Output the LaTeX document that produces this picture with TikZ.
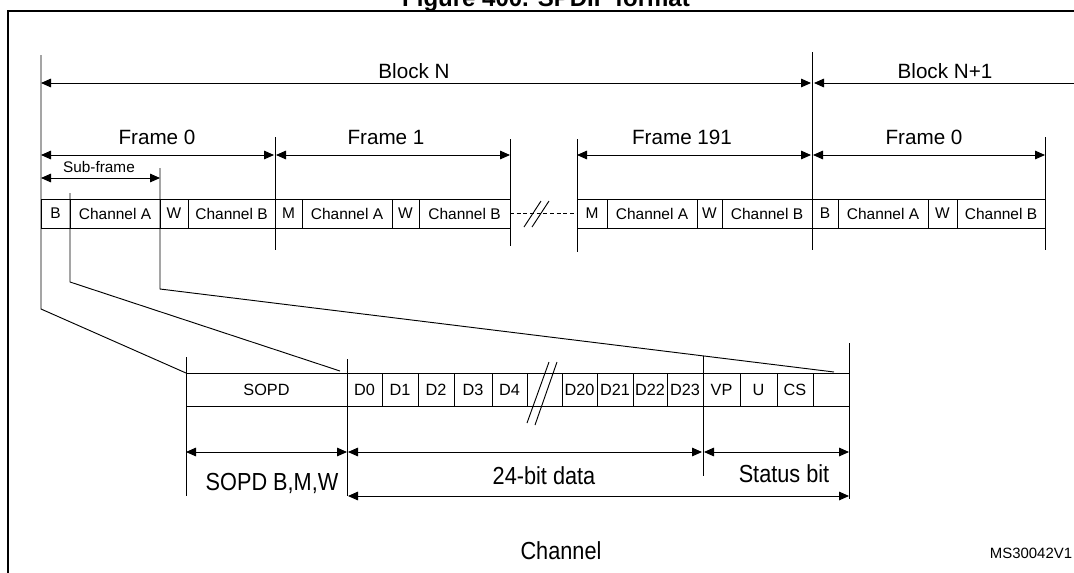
\documentclass[tikz,border=0pt]{standalone}
\usepackage{fontspec}
\setmainfont{Liberation Sans}
\usepackage{graphicx}
\usetikzlibrary{arrows.meta}
\newcommand\condtxt[1]{\scalebox{0.88}[1]{#1}}
\begin{document}
\begin{tikzpicture}[x=0.75pt,y=-0.75pt,
  ln/.style={line width=0.7pt},
  tip/.tip={Triangle[length=7.5pt,width=6.5pt]},
  dim/.style={ln,tip-tip},
  ldim/.style={ln,tip-},
  frameline/.style={line width=1.8pt},
  tcell/.style={draw,line width=0.7pt,inner sep=0pt,outer sep=0pt,minimum height=21.75pt,font=\fontsize{11.6}{13}\selectfont},
  lcell/.style={draw,line width=0.7pt,inner sep=0pt,outer sep=0pt,minimum height=24.75pt,font=\fontsize{12.2}{13}\selectfont},
  big/.style={inner sep=0pt,font=\fontsize{15.5}{18}\selectfont},
  small/.style={inner sep=0pt,font=\fontsize{11.5}{13}\selectfont},
  low/.style={inner sep=0pt,font=\fontsize{18.5}{20}\selectfont},
]
\newcommand\tcellb[4]{\node[tcell,minimum width={(#3-#2)*0.75pt}] (#1) at ({(#2+#3)/2},213.5) {#4};}
\newcommand\lcellb[4]{\node[lcell,minimum width={(#3-#2)*0.75pt}] (#1) at ({(#2+#3)/2},389.5) {#4};}
\useasboundingbox (0,0) rectangle (1074,572);

% title and outer frame
\node[inner sep=0pt,anchor=base,font=\bfseries\fontsize{18}{20}\selectfont] (title) at (546,6) {Figure 400. SPDIF format};
\coordinate (fr1) at (8,580);
\coordinate (fr2) at (8,11);
\coordinate (fr3) at (1080,11);
\draw[frameline] (fr1) -- (fr2) -- (fr3);

% top row of cells
\tcellb{b0}{41}{70}{B}
\tcellb{a0}{70}{160}{Channel A}
\tcellb{w0}{160}{188}{W}
\tcellb{c0}{188}{275}{Channel B}
\tcellb{m1}{275}{302}{M}
\tcellb{a1}{302}{392}{Channel A}
\tcellb{w1}{392}{419}{W}
\tcellb{c1}{419}{510}{Channel B}
\tcellb{m2}{577}{607}{M}
\tcellb{a2}{607}{697}{Channel A}
\tcellb{w2}{697}{722}{W}
\tcellb{c2}{722}{812}{Channel B}
\tcellb{b3}{812}{838}{B}
\tcellb{a3}{838}{928}{Channel A}
\tcellb{w3}{928}{957}{W}
\tcellb{c3}{957}{1045}{Channel B}

% break between frame 1 and frame 191
\draw[ln,dash pattern=on 3pt off 2pt] (c1.east) -- (m2.west);
\coordinate (ts1a) at (524,227); \coordinate (ts1b) at (541,201);
\coordinate (ts2a) at (532,227); \coordinate (ts2b) at (549,201);
\draw[ln] (ts1a) -- (ts1b);
\draw[ln] (ts2a) -- (ts2b);

% lower row of cells
\lcellb{sopd}{186}{347}{SOPD}
\lcellb{d0}{347}{382}{D0}
\lcellb{d1}{382}{418}{D1}
\lcellb{d2}{418}{454}{D2}
\lcellb{d3}{454}{492}{D3}
\lcellb{d4}{492}{527}{D4}
\lcellb{d20}{562}{597}{D20}
\lcellb{d21}{597}{633}{D21}
\lcellb{d22}{633}{667}{D22}
\lcellb{d23}{667}{703}{D23}
\lcellb{vp}{703}{740}{VP}
\lcellb{u}{740}{777}{U}
\lcellb{cs}{777}{813}{CS}
\lcellb{emp}{813}{849}{}
\draw[ln] (d4.north east) -- (d20.north west);
\draw[ln] (d4.south east) -- (d20.south west);
\coordinate (ls1a) at (527,423); \coordinate (ls1b) at (549,362);
\coordinate (ls2a) at (535,425); \coordinate (ls2b) at (557,362);
\draw[ln] (ls1a) -- (ls1b);
\draw[ln] (ls2a) -- (ls2b);

% extension lines, top
\coordinate (e41t) at (41,55);   \coordinate (e41b) at (41,309);
\coordinate (e812t) at (812,52); \coordinate (e812b) at (812,250);
\coordinate (e275t) at (275,137); \coordinate (e275b) at (275,250);
\coordinate (e510t) at (510,139); \coordinate (e510b) at (510,246);
\coordinate (e577t) at (577,139); \coordinate (e577b) at (577,252);
\coordinate (e1045t) at (1045,137); \coordinate (e1045b) at (1045,250);
\coordinate (e160t) at (160,168); \coordinate (e160b) at (160,289);
\coordinate (e70t) at (70,193);  \coordinate (e70b) at (70,282);
\coordinate (lead2) at (340,371);
\coordinate (lead3) at (834,372);
\draw[ln] (e41t) -- (e41b) -- (sopd.north west);
\draw[ln] (e70t) -- (e70b) -- (lead2);
\draw[ln] (e160t) -- (e160b) -- (lead3);
\draw[ln] (e812t) -- (e812b);
\draw[ln] (e275t) -- (e275b);
\draw[ln] (e510t) -- (e510b);
\draw[ln] (e577t) -- (e577b);
\draw[ln] (e1045t) -- (e1045b);

% dimension arrows, top
\coordinate (bn1) at (41,83);  \coordinate (bn2) at (811,83);
\coordinate (bm1) at (814,83); \coordinate (bm2) at (1080,83);
\draw[dim] (bn1) -- (bn2);
\draw[ldim] (bm1) -- (bm2);
\coordinate (f0a) at (41,155);  \coordinate (f0b) at (274,155);
\coordinate (f1a) at (276,155); \coordinate (f1b) at (510,155);
\coordinate (f2a) at (577,155); \coordinate (f2b) at (811,155);
\coordinate (f3a) at (813,155); \coordinate (f3b) at (1045,155);
\coordinate (sfa) at (41,178);  \coordinate (sfb) at (160,178);
\draw[dim] (f0a) -- (f0b);
\draw[dim] (f1a) -- (f1b);
\draw[dim] (f2a) -- (f2b);
\draw[dim] (f3a) -- (f3b);
\draw[dim] (sfa) -- (sfb);

\node[big] (lblockn) at (414,71) {Block N};
\node[big] (lblockm) at (945,71) {Block N+1};
\node[big] (lf0) at (157,137) {Frame 0};
\node[big] (lf1) at (386,137) {Frame 1};
\node[big] (lf191) at (682,137) {Frame 191};
\node[big] (lf0b) at (924,137) {Frame 0};
\node[small] (lsub) at (99,167) {Sub-frame};

% extension lines, bottom
\coordinate (x186t) at (186,357); \coordinate (x186b) at (186,496);
\coordinate (x347t) at (347,359); \coordinate (x347b) at (347,496);
\coordinate (x703t) at (703,356); \coordinate (x703b) at (703,476);
\coordinate (x849t) at (849,343); \coordinate (x849b) at (849,499);
\draw[ln] (x186t) -- (x186b);
\draw[ln] (x347t) -- (x347b);
\draw[ln] (x703t) -- (x703b);
\draw[ln] (x849t) -- (x849b);

% dimension arrows, bottom
\coordinate (sa) at (186,452); \coordinate (sb) at (347,452);
\coordinate (da) at (348,452); \coordinate (db) at (702,452);
\coordinate (ta) at (704,452); \coordinate (tb) at (849,452);
\coordinate (ca) at (348,496); \coordinate (cb) at (849,496);
\draw[dim] (sa) -- (sb);
\draw[dim] (da) -- (db);
\draw[dim] (ta) -- (tb);
\draw[dim] (ca) -- (cb);

\node[low] (lsopd) at (272,483) {\condtxt{SOPD B,M,W}};
\node[low] (ldata) at (544,476) {\condtxt{24-bit data}};
\node[low] (lstat) at (784,474) {\condtxt{Status bit}};
\node[low] (lchan) at (561,551) {\condtxt{Channel}};
\node[inner sep=0pt,font=\fontsize{11.2}{13}\selectfont] (ms) at (1031,553) {MS30042V1};
\end{tikzpicture}
\end{document}
